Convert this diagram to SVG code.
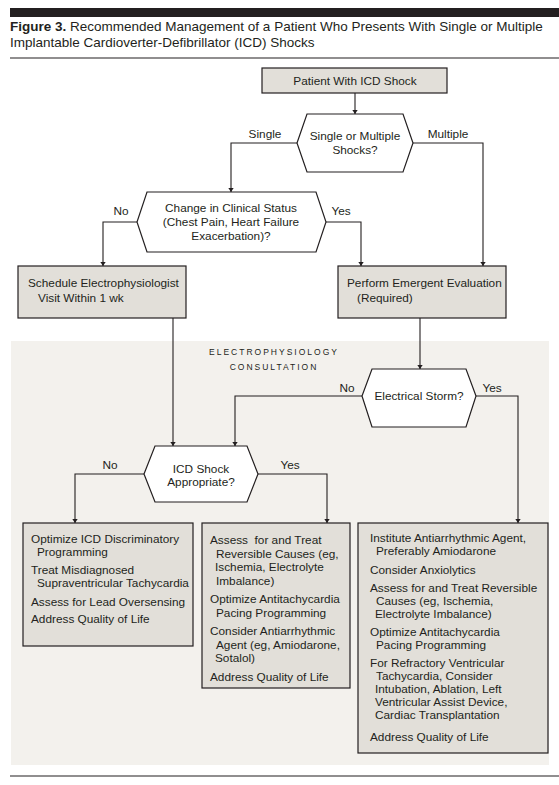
<svg xmlns="http://www.w3.org/2000/svg" width="559" height="785" viewBox="0 0 559 785">
<style>
text{font-family:"Liberation Sans",Arial,sans-serif;fill:#231f20}
.t{font-size:11.8px}
.c{text-anchor:middle}
.lbl{font-size:11.8px}
.box{fill:#e2dfd9;stroke:#231f20;stroke-width:1.2}
.hex{fill:#ffffff;stroke:#231f20;stroke-width:1.2}
.ln{fill:none;stroke:#231f20;stroke-width:1.1}
.ttl{font-size:13.5px}
.sec{font-size:8.5px;letter-spacing:2px}
</style>
<defs>
<marker id="ah" viewBox="0 0 6 8" refX="6" refY="4" markerWidth="4" markerHeight="5.5" orient="auto" markerUnits="userSpaceOnUse">
<path d="M0,0 L6,4 L0,8 z" fill="#231f20"/>
</marker>
</defs>
<rect width="559" height="785" fill="#ffffff"/>
<g id="header">
<rect x="10" y="8" width="549" height="9" fill="#231f20"/>
<text class="ttl" x="10" y="31"><tspan font-weight="bold">Figure 3.</tspan> Recommended Management of a Patient Who Presents With Single or Multiple</text>
<text class="ttl" x="10" y="47">Implantable Cardioverter-Defibrillator (ICD) Shocks</text>
<line x1="10" y1="58" x2="559" y2="58" stroke="#231f20" stroke-width="1.2"/>
<line x1="10" y1="776" x2="559" y2="776" stroke="#231f20" stroke-width="1.2"/>
</g>
<g id="ep-region">
<rect x="11" y="341" width="538" height="424" fill="#f3f1ed"/>
<text class="sec c" x="274" y="355">ELECTROPHYSIOLOGY</text>
<text class="sec c" x="274" y="370">CONSULTATION</text>
</g>
<g id="connectors">
<line class="ln" x1="355" y1="93" x2="355" y2="114" marker-end="url(#ah)"/>
<polyline class="ln" points="297,143 231,143 231,192" marker-end="url(#ah)"/>
<polyline class="ln" points="413,143 483,143 483,266" marker-end="url(#ah)"/>
<polyline class="ln" points="137,222 103,222 103,266" marker-end="url(#ah)"/>
<polyline class="ln" points="326,222 361,222 361,266" marker-end="url(#ah)"/>
<line class="ln" x1="173" y1="318" x2="173" y2="446" marker-end="url(#ah)"/>
<line class="ln" x1="420" y1="318" x2="420" y2="369" marker-end="url(#ah)"/>
<polyline class="ln" points="362,396 235,396 235,446" marker-end="url(#ah)"/>
<polyline class="ln" points="476,396 518,396 518,523" marker-end="url(#ah)"/>
<polyline class="ln" points="144,474 75,474 75,523" marker-end="url(#ah)"/>
<polyline class="ln" points="258,474 327,474 327,523" marker-end="url(#ah)"/>
<text class="lbl c" x="265" y="138">Single</text>
<text class="lbl c" x="448" y="138">Multiple</text>
<text class="lbl c" x="121" y="215">No</text>
<text class="lbl c" x="341" y="215">Yes</text>
<text class="lbl c" x="347" y="392">No</text>
<text class="lbl c" x="492" y="392">Yes</text>
<text class="lbl c" x="110" y="469">No</text>
<text class="lbl c" x="290" y="469">Yes</text>
</g>
<g id="start">
<rect class="box" x="262" y="68" width="185" height="25"/>
<text class="t c" x="355" y="85">Patient With ICD Shock</text>
</g>
<g id="shocks-decision">
<polygon class="hex" points="307,114 403,114 413,143 403,172 307,172 297,143"/>
<text class="t c" x="355" y="140">Single or Multiple</text>
<text class="t c" x="355" y="154">Shocks?</text>
</g>
<g id="clinical-decision">
<polygon class="hex" points="147,192 316,192 326,222 316,252 147,252 137,222"/>
<text class="t c" x="231" y="212">Change in Clinical Status</text>
<text class="t c" x="231" y="226">(Chest Pain, Heart Failure</text>
<text class="t c" x="231" y="240">Exacerbation)?</text>
</g>
<g id="schedule">
<rect class="box" x="18" y="266" width="168" height="52"/>
<text class="t" x="28" y="287">Schedule Electrophysiologist</text>
<text class="t" x="38" y="302">Visit Within 1 wk</text>
</g>
<g id="emergent">
<rect class="box" x="338" y="266" width="168" height="52"/>
<text class="t" x="347" y="287">Perform Emergent Evaluation</text>
<text class="t" x="357" y="302">(Required)</text>
</g>
<g id="storm-decision">
<polygon class="hex" points="372,369 466,369 476,396 466,427 372,427 362,396"/>
<text class="t c" x="419" y="400">Electrical Storm?</text>
</g>
<g id="appropriate-decision">
<polygon class="hex" points="155,446 247,446 258,474 247,502 155,502 144,474"/>
<text class="t c" x="201" y="473">ICD Shock</text>
<text class="t c" x="201" y="486">Appropriate?</text>
</g>
<g id="inappropriate-mgmt">
<rect class="box" x="23" y="523" width="170" height="123"/>
<text class="t" x="31" y="543">Optimize ICD Discriminatory</text>
<text class="t" x="37" y="556">Programming</text>
<text class="t" x="31" y="574">Treat Misdiagnosed</text>
<text class="t" x="37" y="587">Supraventricular Tachycardia</text>
<text class="t" x="31" y="606">Assess for Lead Oversensing</text>
<text class="t" x="31" y="623">Address Quality of Life</text>
</g>
<g id="appropriate-mgmt">
<rect class="box" x="202" y="523" width="148" height="165"/>
<text class="t" x="210" y="544" xml:space="preserve">Assess  for and Treat</text>
<text class="t" x="216" y="557.5">Reversible Causes (eg,</text>
<text class="t" x="215" y="571">Ischemia, Electrolyte</text>
<text class="t" x="216" y="584.5">Imbalance)</text>
<text class="t" x="210" y="603">Optimize Antitachycardia</text>
<text class="t" x="216" y="616.5">Pacing Programming</text>
<text class="t" x="210" y="635">Consider Antiarrhythmic</text>
<text class="t" x="216" y="648.5">Agent (eg, Amiodarone,</text>
<text class="t" x="215" y="662">Sotalol)</text>
<text class="t" x="210" y="680.5">Address Quality of Life</text>
</g>
<g id="storm-mgmt">
<rect class="box" x="358" y="523" width="190" height="230"/>
<text class="t" x="370" y="542">Institute Antiarrhythmic Agent,</text>
<text class="t" x="376" y="555">Preferably Amiodarone</text>
<text class="t" x="370" y="574">Consider Anxiolytics</text>
<text class="t" x="370" y="592">Assess for and Treat Reversible</text>
<text class="t" x="376" y="605">Causes (eg, Ischemia,</text>
<text class="t" x="375" y="618">Electrolyte Imbalance)</text>
<text class="t" x="370" y="636">Optimize Antitachycardia</text>
<text class="t" x="376" y="649">Pacing Programming</text>
<text class="t" x="370" y="667">For Refractory Ventricular</text>
<text class="t" x="376" y="680">Tachycardia, Consider</text>
<text class="t" x="375" y="693">Intubation, Ablation, Left</text>
<text class="t" x="375" y="706">Ventricular Assist Device,</text>
<text class="t" x="375" y="719">Cardiac Transplantation</text>
<text class="t" x="370" y="741">Address Quality of Life</text>
</g>
</svg>
